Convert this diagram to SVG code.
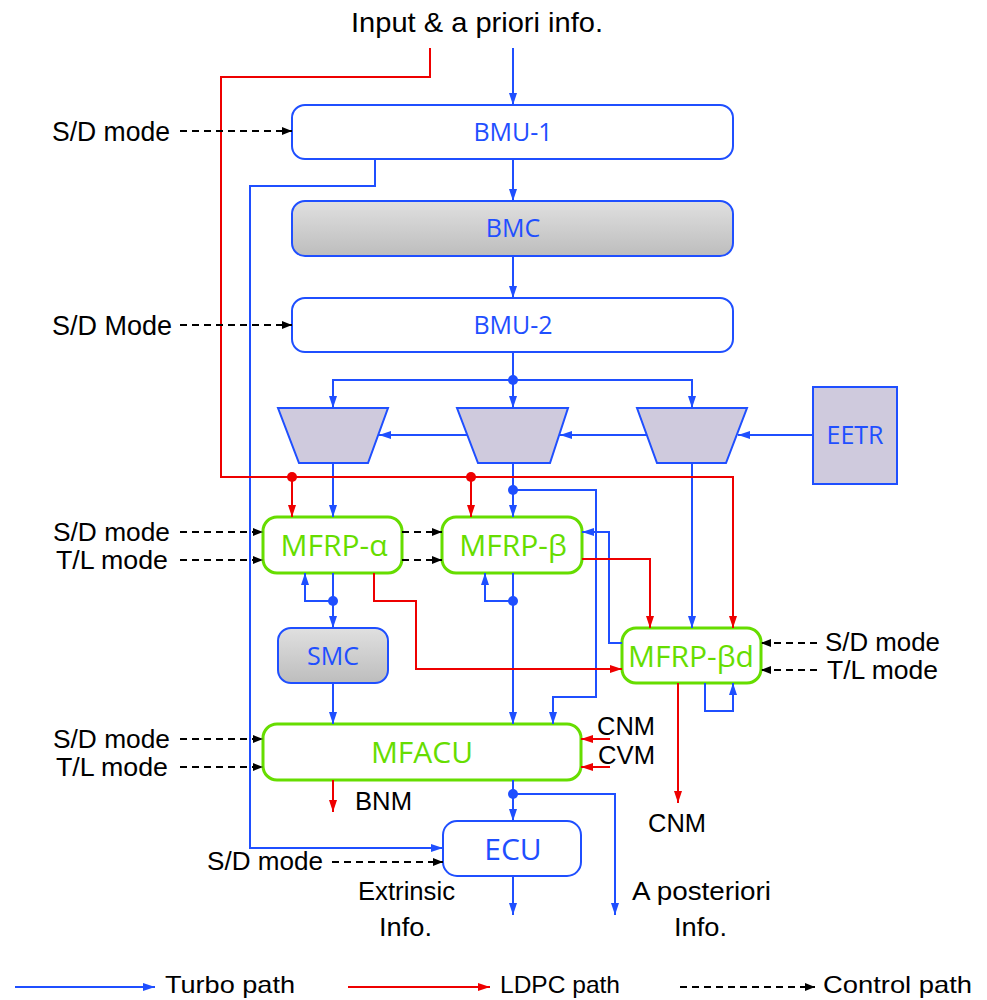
<svg xmlns="http://www.w3.org/2000/svg" width="987" height="1000" viewBox="0 0 987 1000">
<style>
.bl{fill:none;stroke:#1f4fff;stroke-width:2}
.rd{fill:none;stroke:#ee0000;stroke-width:2}
.ct{fill:none;stroke:#000;stroke-width:2;stroke-dasharray:7 5}
.nb{fill:#fff;stroke:#1f4fff;stroke-width:2}
.ng{fill:url(#gray);stroke:#1f4fff;stroke-width:2}
.nG{fill:#fff;stroke:#66dd00;stroke-width:3}
.tz{fill:#cfcadd;stroke:#1f4fff;stroke-width:2}
.tb{font-family:"Open Sans","DejaVu Sans",sans-serif;font-size:25px;fill:#1f4fff;text-anchor:middle}
.tg{font-family:"Open Sans","DejaVu Sans",sans-serif;font-size:30px;fill:#66dd00;text-anchor:middle}
.tk{font-family:"Liberation Sans",Arial,sans-serif;font-size:25px;fill:#000}
.tn{font-family:"Liberation Sans Narrow","Liberation Sans",sans-serif;font-size:28px;fill:#000}
.tl{font-family:"Liberation Sans Narrow","Liberation Sans",sans-serif;font-size:24px;fill:#000}
.bd{fill:#1f4fff}
.rdd{fill:#ee0000}
</style>
<defs>
<linearGradient id="gray" x1="0" y1="0" x2="0" y2="1">
<stop offset="0" stop-color="#e0e0e0"/>
<stop offset="1" stop-color="#bdbdbd"/>
</linearGradient>
<marker id="ab" viewBox="0 0 12 8" refX="12" refY="4" markerWidth="12" markerHeight="8" markerUnits="userSpaceOnUse" orient="auto"><path d="M0,0 L12,4 L0,8 z" fill="#1f4fff"/></marker>
<marker id="ar" viewBox="0 0 12 8" refX="12" refY="4" markerWidth="12" markerHeight="8" markerUnits="userSpaceOnUse" orient="auto"><path d="M0,0 L12,4 L0,8 z" fill="#ee0000"/></marker>
<marker id="ak" viewBox="0 0 10 8" refX="10" refY="4" markerWidth="10" markerHeight="8" markerUnits="userSpaceOnUse" orient="auto"><path d="M0,0 L10,4 L0,8 z" fill="#000"/></marker>
</defs>

<g id="nodes">
<g id="bmu1"><rect class="nb" x="292" y="105" width="441" height="54" rx="13"/><text class="tb" x="513" y="141">BMU-1</text></g>
<g id="bmc"><rect class="ng" x="292" y="201" width="441" height="55" rx="13"/><text class="tb" x="513" y="237">BMC</text></g>
<g id="bmu2"><rect class="nb" x="292" y="298" width="441" height="54" rx="13"/><text class="tb" x="513" y="334">BMU-2</text></g>
<g id="mux1"><polygon class="tz" points="278,408 388,408 368,463 299,463"/></g>
<g id="mux2"><polygon class="tz" points="457,408 568,408 550,463 478,463"/></g>
<g id="mux3"><polygon class="tz" points="637,408 747,408 726,463 657,463"/></g>
<g id="eetr"><rect class="tz" x="813" y="387" width="84" height="97"/><text class="tb" x="855" y="444">EETR</text></g>
<g id="mfrpa"><rect class="nG" x="263" y="517" width="139" height="56" rx="14"/><text class="tg" x="334" y="556">MFRP-α</text></g>
<g id="mfrpb"><rect class="nG" x="442" y="517" width="140" height="56" rx="14"/><text class="tg" x="513" y="556">MFRP-β</text></g>
<g id="mfrpbd"><rect class="nG" x="622" y="628" width="139" height="55" rx="14"/><text class="tg" x="691" y="667">MFRP-βd</text></g>
<g id="smc"><rect class="ng" x="278" y="628" width="110" height="55" rx="13"/><text class="tb" x="333" y="665">SMC</text></g>
<g id="mfacu"><rect class="nG" x="263" y="724" width="318" height="56" rx="14"/><text class="tg" x="422" y="763">MFACU</text></g>
<g id="ecu"><rect class="nb" x="443" y="821" width="138" height="55" rx="14"/><text class="tg" x="513" y="860" style="fill:#1f4fff">ECU</text></g>
</g>

<g id="connectors">
<path class="bl" d="M513,48 V105" marker-end="url(#ab)"/>
<path class="bl" d="M513,159 V201" marker-end="url(#ab)"/>
<path class="bl" d="M513,256 V298" marker-end="url(#ab)"/>
<path class="bl" d="M513,352 V408" marker-end="url(#ab)"/>
<path class="bl" d="M513,380 H333 V408" marker-end="url(#ab)"/>
<path class="bl" d="M513,380 H692 V408" marker-end="url(#ab)"/>
<path class="bl" d="M375,159 V186 H250 V848 H443" marker-end="url(#ab)"/>
<path class="bl" d="M813,435 H738" marker-end="url(#ab)"/>
<path class="bl" d="M647,435 H560" marker-end="url(#ab)"/>
<path class="bl" d="M467,435 H379" marker-end="url(#ab)"/>
<path class="bl" d="M333,463 V517" marker-end="url(#ab)"/>
<path class="bl" d="M513,463 V517" marker-end="url(#ab)"/>
<path class="bl" d="M513,490 H596 V697 H553 V724" marker-end="url(#ab)"/>
<path class="bl" d="M692,463 V628" marker-end="url(#ab)"/>
<path class="bl" d="M622,643 H609 V532 H582" marker-end="url(#ab)"/>
<path class="bl" d="M333,573 V628" marker-end="url(#ab)"/>
<path class="bl" d="M333,601 H305 V573" marker-end="url(#ab)"/>
<path class="bl" d="M513,573 V724" marker-end="url(#ab)"/>
<path class="bl" d="M513,601 H485 V573" marker-end="url(#ab)"/>
<path class="bl" d="M333,683 V724" marker-end="url(#ab)"/>
<path class="bl" d="M513,780 V821" marker-end="url(#ab)"/>
<path class="bl" d="M513,794 H615 V915" marker-end="url(#ab)"/>
<path class="bl" d="M513,876 V915" marker-end="url(#ab)"/>
<path class="bl" d="M705,683 V711 H733 V683" marker-end="url(#ab)"/>
<circle class="bd" cx="513" cy="380" r="5"/>
<circle class="bd" cx="513" cy="490" r="5"/>
<circle class="bd" cx="333" cy="601" r="5"/>
<circle class="bd" cx="513" cy="601" r="5"/>
<circle class="bd" cx="513" cy="794" r="5"/>

<path class="rd" d="M430,48 V77 H221 V477 H733 V628" marker-end="url(#ar)"/>
<path class="rd" d="M292,477 V517" marker-end="url(#ar)"/>
<path class="rd" d="M471,477 V517" marker-end="url(#ar)"/>
<path class="rd" d="M582,559 H650 V628" marker-end="url(#ar)"/>
<path class="rd" d="M374,573 V601 H416 V669 H622" marker-end="url(#ar)"/>
<path class="rd" d="M610,739 H581" marker-end="url(#ar)"/>
<path class="rd" d="M610,767 H581" marker-end="url(#ar)"/>
<path class="rd" d="M333,780 V812" marker-end="url(#ar)"/>
<path class="rd" d="M678,683 V803" marker-end="url(#ar)"/>
<circle class="rdd" cx="292" cy="477" r="5"/>
<circle class="rdd" cx="471" cy="477" r="5"/>

<path class="ct" d="M180,131 H292" marker-end="url(#ak)"/>
<path class="ct" d="M180,325 H292" marker-end="url(#ak)"/>
<path class="ct" d="M180,532 H263" marker-end="url(#ak)"/>
<path class="ct" d="M180,560 H263" marker-end="url(#ak)"/>
<path class="ct" d="M402,532 H442" marker-end="url(#ak)"/>
<path class="ct" d="M402,560 H442" marker-end="url(#ak)"/>
<path class="ct" d="M180,739 H263" marker-end="url(#ak)"/>
<path class="ct" d="M180,767 H263" marker-end="url(#ak)"/>
<path class="ct" d="M332,862 H443" marker-end="url(#ak)"/>
<path class="ct" d="M817,643 H761" marker-end="url(#ak)"/>
<path class="ct" d="M817,670 H761" marker-end="url(#ak)"/>
</g>

<g id="labels">
<text class="tn" x="351" y="32" textLength="252" lengthAdjust="spacingAndGlyphs">Input &amp; a priori info.</text>
<text class="tn" x="52" y="141" textLength="118" lengthAdjust="spacingAndGlyphs">S/D mode</text>
<text class="tn" x="52" y="335" textLength="120" lengthAdjust="spacingAndGlyphs">S/D Mode</text>
<text class="tk" x="53" y="541" textLength="117" lengthAdjust="spacingAndGlyphs">S/D mode</text>
<text class="tk" x="56" y="569" textLength="112" lengthAdjust="spacingAndGlyphs">T/L mode</text>
<text class="tk" x="53" y="748" textLength="117" lengthAdjust="spacingAndGlyphs">S/D mode</text>
<text class="tk" x="56" y="776" textLength="112" lengthAdjust="spacingAndGlyphs">T/L mode</text>
<text class="tk" x="207" y="870" textLength="116" lengthAdjust="spacingAndGlyphs">S/D mode</text>
<text class="tk" x="825" y="651" textLength="115" lengthAdjust="spacingAndGlyphs">S/D mode</text>
<text class="tk" x="827" y="679" textLength="111" lengthAdjust="spacingAndGlyphs">T/L mode</text>
<text class="tk" x="597" y="735" textLength="58" lengthAdjust="spacingAndGlyphs">CNM</text>
<text class="tk" x="598" y="764" textLength="57" lengthAdjust="spacingAndGlyphs">CVM</text>
<text class="tk" x="355" y="810" textLength="57" lengthAdjust="spacingAndGlyphs">BNM</text>
<text class="tk" x="648" y="832" textLength="58" lengthAdjust="spacingAndGlyphs">CNM</text>
<text class="tk" x="358" y="900" textLength="97" lengthAdjust="spacingAndGlyphs">Extrinsic</text>
<text class="tk" x="379" y="936" textLength="53" lengthAdjust="spacingAndGlyphs">Info.</text>
<text class="tk" x="632" y="900" textLength="139" lengthAdjust="spacingAndGlyphs">A posteriori</text>
<text class="tk" x="674" y="936" textLength="53" lengthAdjust="spacingAndGlyphs">Info.</text>
</g>

<g id="legend">
<path class="bl" d="M15,987 H155" marker-end="url(#ab)"/>
<text class="tl" x="165" y="993" textLength="130" lengthAdjust="spacingAndGlyphs">Turbo path</text>
<path class="rd" d="M348,987 H490" marker-end="url(#ar)"/>
<text class="tl" x="500" y="993" textLength="120" lengthAdjust="spacingAndGlyphs">LDPC path</text>
<path class="ct" d="M680,987 H815" marker-end="url(#ak)"/>
<text class="tl" x="823" y="993" textLength="149" lengthAdjust="spacingAndGlyphs">Control path</text>
</g>
</svg>
